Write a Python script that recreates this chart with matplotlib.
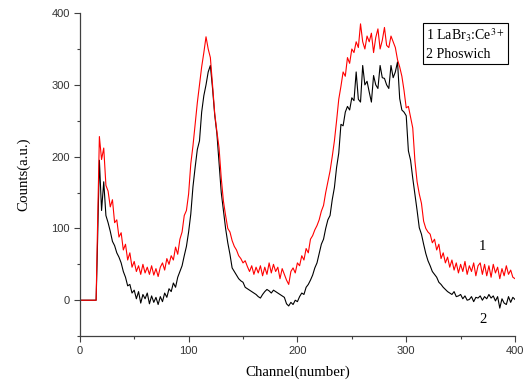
import numpy as np
import matplotlib
matplotlib.use('Agg')
import matplotlib.pyplot as plt
from matplotlib.ticker import MultipleLocator

#%% datos (cada 2 canales)
channel = [0, 15] + list(range(16, 401, 2))

laBr3 = [0, 0,
    80, 228, 196, 212, 160, 152, 130, 140, 108, 112,
    88, 94, 70, 78, 56, 66, 46, 54, 40, 48,
    36, 50, 38, 46, 36, 48, 35, 44, 33, 46,
    52, 42, 58, 50, 62, 56, 74, 64, 85, 95,
    118, 125, 148, 190, 215, 245, 275, 300, 325, 345,
    367, 350, 338, 300, 260, 235, 212, 170, 138, 118,
    100, 95, 83, 75, 70, 62, 58, 52, 55, 47,
    40, 48, 36, 46, 38, 48, 34, 46, 36, 52,
    38, 50, 40, 46, 30, 44, 36, 28, 22, 40,
    45, 38, 52, 48, 62, 56, 72, 66, 85, 90,
    98, 104, 112, 124, 132, 150, 165, 180, 200, 222,
    250, 280, 298, 318, 312, 338, 330, 350, 345, 360,
    352, 385, 360, 350, 368, 360, 372, 345, 366, 378,
    350, 362, 380, 355, 352, 368, 360, 352, 335, 325,
    312, 292, 268, 270, 255, 240, 194, 165, 148, 135,
    110, 100, 95, 92, 80, 85, 70, 78, 58, 66,
    52, 60, 46, 56, 42, 52, 38, 50, 40, 54,
    36, 48, 40, 52, 34, 48, 52, 36, 50, 34,
    48, 32, 50, 38, 46, 30, 44, 34, 48, 36,
    42, 32, 30]

phoswich = [0, 0,
    60, 195, 125, 165, 118, 108, 96, 82, 76, 66,
    60, 52, 40, 32, 20, 22, 10, 14, 2, 12,
    -4, 8, 2, 10, -5, 6, -3, 4, -6, 5,
    -2, 10, 4, 16, 12, 24, 18, 32, 40, 48,
    62, 75, 95, 120, 158, 185, 210, 222, 262, 285,
    300, 318, 327, 295, 258, 232, 190, 150, 125, 100,
    80, 64, 45, 40, 35, 30, 27, 25, 18, 16,
    14, 12, 10, 8, 5, 3, 8, 12, 15, 13,
    10, 14, 12, 10, 8, 6, 4, -5, -8, -3,
    -6, 0, -2, 5, 10, 8, 18, 22, 28, 35,
    45, 52, 65, 78, 85, 100, 112, 118, 140, 157,
    185, 205, 245, 243, 262, 270, 265, 282, 278, 318,
    280, 276, 327, 300, 305, 290, 276, 313, 300, 295,
    327, 310, 309, 300, 295, 327, 310, 318, 332, 281,
    265, 262, 257, 208, 195, 170, 148, 125, 101, 92,
    78, 65, 55, 48, 40, 36, 32, 25, 22, 18,
    15, 12, 10, 8, 12, 5, 6, 8, 2, 6,
    0, 1, 5, -2, 4, 3, 6, 0, 5, 2,
    8, 3, 6, -1, 5, -11, 2, -4, -6, 5,
    -3, 4, 1]

#%%
plt.rcParams['mathtext.fontset'] = 'stix'

fig = plt.figure(figsize=(5.25, 3.85), dpi=100)
ax = fig.add_axes([0.152, 0.127, 0.829, 0.839])

ax.plot(channel, phoswich, color='black', lw=0.8)
ax.plot(channel, laBr3, color='#ff0000', lw=0.8)

ax.set_xlim(0, 400)
ax.set_ylim(-50, 400)
ax.spines['top'].set_visible(False)
ax.spines['right'].set_visible(False)
for s in ['left', 'bottom']:
    ax.spines[s].set_color('#404040')
    ax.spines[s].set_linewidth(0.9)

ax.xaxis.set_major_locator(MultipleLocator(100))
ax.xaxis.set_minor_locator(MultipleLocator(50))
ax.yaxis.set_major_locator(MultipleLocator(100))
ax.yaxis.set_minor_locator(MultipleLocator(50))
ax.tick_params(which='major', direction='out', length=4, width=0.8, color='#404040',
               labelsize=8, labelcolor='#333333', pad=3)
ax.tick_params(which='minor', direction='out', length=2.5, width=0.8, color='#404040')
for lab in ax.get_xticklabels() + ax.get_yticklabels():
    lab.set_family('Liberation Sans')

ax.set_xlabel('Channel(number)', family='Liberation Serif', fontsize=10.7, labelpad=7)
ax.set_ylabel('Counts(a.u.)', family='Liberation Serif', fontsize=10.7, labelpad=15)

# leyenda tipo Origin
ax.text(0.796, 0.958, '1 LaBr$_3$:Ce$^{3+}$\n2 Phoswich', transform=ax.transAxes,
        family='Liberation Serif', fontsize=10, va='top', ha='left', linespacing=1.4,
        bbox=dict(boxstyle='square,pad=0.2', fc='white', ec='black', lw=0.8))

ax.text(370, 75, '1', family='Liberation Serif', fontsize=10.5, ha='center', va='center')
ax.text(371, -27, '2', family='Liberation Serif', fontsize=10.5, ha='center', va='center')

fig.savefig('out.png', dpi=100)
